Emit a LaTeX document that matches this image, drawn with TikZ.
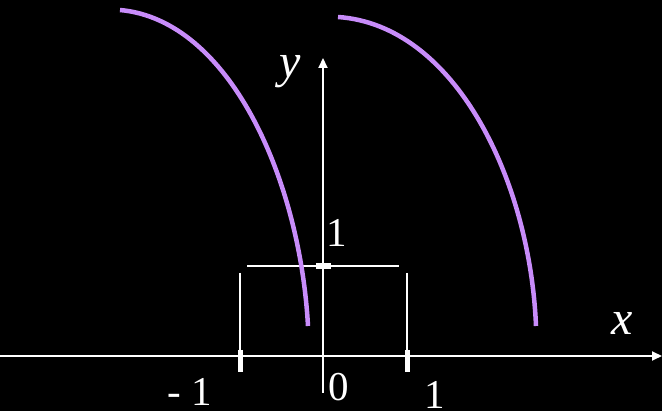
\documentclass[tikz,border=0pt]{standalone}
\usepackage{fontspec}
\setmainfont{Liberation Serif}
\usetikzlibrary{arrows.meta,positioning}
\definecolor{curvepurple}{RGB}{200,140,250}

\begin{document}
\begin{tikzpicture}[
  x=1pt, y=-1pt,
  >={Triangle[length=10pt,width=9pt]},
  axis/.style={draw=white, line width=2pt},
  guide/.style={draw=white, line width=1.4pt},
  tickmark/.style={draw=white, line width=5pt},
  graph/.style={draw=curvepurple, line width=4.5pt},
  num/.style={text=white, font=\fontsize{41}{45}\selectfont, inner sep=0pt},
  var/.style={text=white, font=\fontsize{48}{52}\selectfont\itshape, inner sep=0pt}
]
\fill[black] (0,0) rectangle (662,411);
\useasboundingbox (0,0) rectangle (662,411);

% axes
\coordinate (xstart) at (0,356);
\coordinate (xend) at (662,356);
\coordinate (ystart) at (323,393);
\coordinate (yend) at (323,58);
\draw[axis, ->] (xstart) -- (xend);
\draw[axis, ->] (ystart) -- (yend);

% guide lines
\coordinate (hleft) at (247,266);
\coordinate (hright) at (399,266);
\coordinate (mleft) at (240,273);
\coordinate (mright) at (407,273);
\draw[guide] (hleft) -- (hright);
\draw[guide] (mleft) -- (mleft |- xstart);
\draw[guide] (mright) -- (mright |- xstart);

% ticks
\draw[tickmark] (240,350) -- (240,372);
\draw[tickmark] (407,350) -- (407,372);
\draw[line width=6pt, white] (316,266) -- (331,266);

% curves
\draw[graph] (120,10) .. controls (230,20) and (300,180) .. (308,326);
\draw[graph] (338,17) .. controls (455,25) and (530,180) .. (536,326);

% labels
\node[var] (ylabel) at (290,72) {y};
\node[var] (xlabel) at (622,323) {x};
\node[num] (one) at (337,233) {1};
\node[num] (mone) at (190,392) {- 1};
\node[num] (zero) at (339,387) {0};
\node[num] (pone) at (435,395) {1};
\end{tikzpicture}
\end{document}
